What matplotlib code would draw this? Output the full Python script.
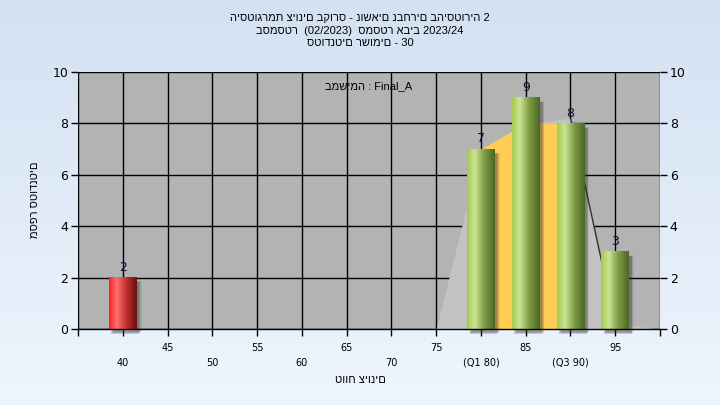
import numpy as np
import matplotlib.pyplot as plt
from matplotlib.colors import to_rgb

plt.rcParams['font.family'] = ['DejaVu Sans']
heb_font = ['Liberation Sans', 'DejaVu Sans']

# data
categories = ['40', '45', '50', '55', '60', '65', '70', '75', '(Q1 80)', '85', '(Q3 90)', '95']
counts = [2, 0, 0, 0, 0, 0, 0, 0, 7, 9, 8, 3]
bar_kind = ['fail', 'pass', 'pass', 'pass', 'pass', 'pass', 'pass', 'pass', 'pass', 'pass', 'pass', 'pass']
# background distribution shapes
dist_x = [7, 8, 9, 10, 11, 12]
dist_y = [0, 7, 8, 8.2, 0.2, 0]
iqr_x = [8, 9, 10]
iqr_y = [7, 8, 8]

title_lines = ['היסטוגרמת ציונים בקורס - נושאים נבחרים בהיסטוריה 2',
               'בסמסטר  (02/2023)  סמסטר אביב 2023/24',
               'סטודנטים רשומים - 30']
task_label = 'במשימה : Final_A'
xlabel = 'טווח ציונים'
ylabel = 'מספר סטודנטים'

fig = plt.figure(figsize=(7.2, 4.05), dpi=100)

# figure background gradient
bg = fig.add_axes([0, 0, 1, 1], zorder=-10)
top = np.array(to_rgb('#d3e1f2'))
bot = np.array(to_rgb('#eef5fd'))
t = np.linspace(0, 1, 256)[:, None]
grad = top * (1 - t) + bot * t
bg.imshow(grad[:, None, :].repeat(2, axis=1), aspect='auto', extent=[0, 1, 0, 1])
bg.axis('off')

ax = fig.add_axes([78 / 720, 1 - 329 / 405, (660 - 78) / 720, (329 - 72) / 405])
ax.set_facecolor('#b3b3b3')

# background areas
ax.fill_between(dist_x, 0, dist_y, color='#c2c2c2', zorder=1, lw=0)
ax.plot(dist_x[3:5], dist_y[3:5], color='#303030', lw=1, zorder=1.5)
ax.fill_between(iqr_x, 0, iqr_y, color='#ffcc55', zorder=2, lw=0)

# gradient bars
def bar_grad(kind):
    if kind == 'fail':
        stops = ['#ff2020', '#ff7272', '#c03030', '#6a0e0e']
    else:
        stops = ['#a2cc4c', '#cce494', '#7e9c44', '#4a6826']
    pos = [0, 0.28, 0.62, 1]
    xs = np.linspace(0, 1, 64)
    cols = np.array([to_rgb(c) for c in stops])
    img = np.stack([np.interp(xs, pos, cols[:, k]) for k in range(3)], axis=-1)
    return img[None, :, :]

w = 0.62
for i, (v, kind) in enumerate(zip(counts, bar_kind)):
    if v == 0:
        continue
    # soft shadow
    for k, a in enumerate([0.08, 0.12, 0.16, 0.2]):
        off = 0.16 - k * 0.035
        ax.add_patch(plt.Rectangle((i - w / 2 + 0.03 + off * 0.5, -0.2 + off * 0.4), w, v,
                                   color='#303030', alpha=a, lw=0, zorder=3, clip_on=False))
    ax.imshow(bar_grad(kind), aspect='auto', extent=[i - w / 2, i + w / 2, 0, v], zorder=4)
    ax.text(i, v + 0.15, str(v), ha='center', va='bottom', fontsize=9, color='#101030', zorder=6)

ax.set_xlim(-1, 12)
ax.set_ylim(0, 10)

ax.set_xticks(range(-1, 13))
xt = [''] + [('\n' + c) if i % 2 == 0 else (c + '\n') for i, c in enumerate(categories)] + ['']
ax.set_xticklabels(xt, fontsize=7, linespacing=1.6)
ax.set_yticks(range(0, 11, 2))
ax.tick_params(axis='x', length=5, width=1, pad=5)
ax.tick_params(axis='y', length=5, width=1, labelsize=9, right=True, labelright=True, pad=2)
ax.grid(True, color='black', lw=1, zorder=0)
ax.set_axisbelow(True)
for s in ['top', 'left', 'right']:
    ax.spines[s].set_visible(False)
ax.spines['bottom'].set_linewidth(1)
ax.spines['bottom'].set_zorder(5)

ax.text(0.5, 0.945, task_label, transform=ax.transAxes, ha='center', va='center',
        fontsize=8, family=heb_font)

fig.text(360 / 720, 1 - 380 / 405, xlabel, ha='center', va='center', fontsize=8, family=heb_font)
fig.text(35 / 720, 1 - 200 / 405, ylabel, ha='center', va='center', fontsize=8,
         rotation=90, family=heb_font)
for k, line in enumerate(title_lines):
    fig.text(360 / 720, 1 - (18 + 12.5 * k) / 405, line, ha='center', va='center',
             fontsize=8, family=heb_font)

fig.savefig('out.png', dpi=100)
